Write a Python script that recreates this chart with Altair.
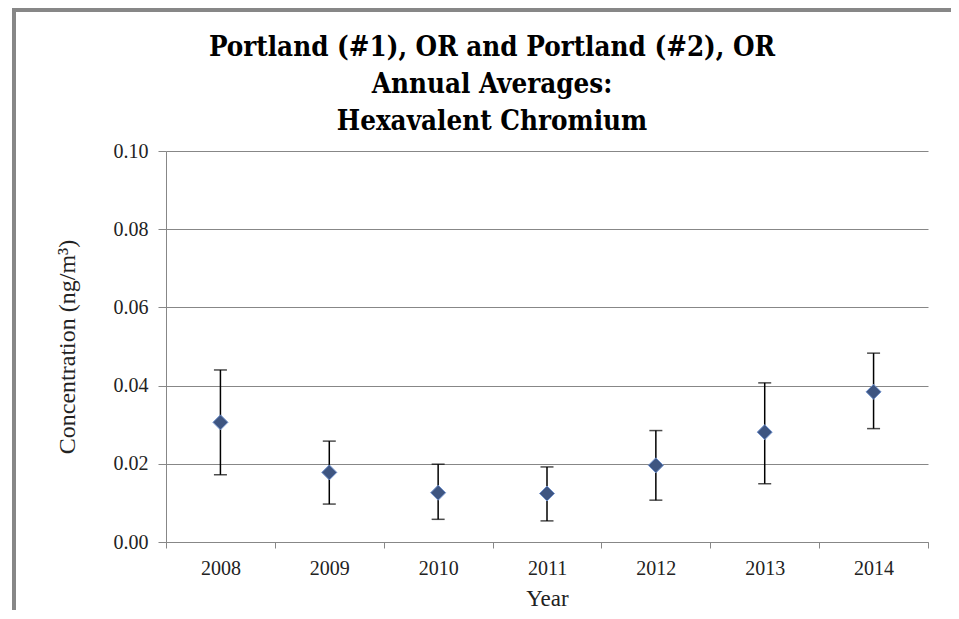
import altair as alt
import pandas as pd

years = ["2008", "2009", "2010", "2011", "2012", "2013", "2014"]
means = [0.0306, 0.0178, 0.0126, 0.0124, 0.0196, 0.0281, 0.0384]
lower = [0.0172, 0.0097, 0.0058, 0.0054, 0.0107, 0.0149, 0.0290]
upper = [0.0440, 0.0258, 0.0199, 0.0192, 0.0285, 0.0407, 0.0483]
y_ticks = [0.0, 0.02, 0.04, 0.06, 0.08, 0.10]

df = pd.DataFrame({"year": years, "mean": means, "lo": lower, "hi": upper})

W, H = 762, 391
SERIF = "'Times New Roman', 'Liberation Serif', serif"
TITLE_FONT = "'DejaVu Serif Condensed', 'DejaVu Serif', serif"
GRAY = "#878787"

xenc = alt.X(
    "year:O",
    sort=years,
    scale=alt.Scale(paddingInner=0, paddingOuter=0),
    axis=alt.Axis(
        title="Year", tickBand="extent", labelAngle=0,
        labelFont=SERIF, labelFontSize=20, labelColor="#222",
        titleFont=SERIF, titleFontSize=23, titleFontWeight="normal", titleColor="#222",
        labelPadding=10, titlePadding=9, tickSize=6,
        domainColor=GRAY, tickColor=GRAY, grid=False,
    ),
)
yscale = alt.Scale(domain=[0, 0.1], nice=False)
yaxis = alt.Axis(
    title="Concentration (ng/m³)", values=y_ticks, format=".2f",
    labelFont=SERIF, labelFontSize=20, labelColor="#222",
    titleFont=SERIF, titleFontSize=24, titleFontWeight="normal", titleColor="#222",
    labelPadding=10, titlePadding=34, tickSize=8,
    domainColor=GRAY, tickColor=GRAY, grid=True, gridColor=GRAY, gridWidth=1,
)

base = alt.Chart(df)
bars = base.mark_rule(color="black", strokeWidth=1.5).encode(
    x=xenc, y=alt.Y("lo:Q", scale=yscale, axis=yaxis), y2="hi:Q"
)
cap_lo = base.mark_tick(color="black", thickness=1.5, size=13).encode(
    x="year:O", y=alt.Y("lo:Q", scale=yscale)
)
cap_hi = base.mark_tick(color="black", thickness=1.5, size=13).encode(
    x="year:O", y=alt.Y("hi:Q", scale=yscale)
)
points = base.mark_point(
    shape="diamond", filled=True, size=225, fill="#3E5581",
    stroke="#6F90CC", strokeWidth=1, opacity=1,
).encode(x="year:O", y=alt.Y("mean:Q", scale=yscale))

frame_df = alt.Data(values=[{"k": 1}])
frame_left = alt.Chart(frame_df).mark_rule(color=GRAY, strokeWidth=4).encode(
    x=alt.value(-152), y=alt.value(-143), y2=alt.value(470)
)
frame_top = alt.Chart(frame_df).mark_rule(color=GRAY, strokeWidth=4).encode(
    x=alt.value(-154), x2=alt.value(800), y=alt.value(-141)
)

chart = alt.layer(bars, cap_lo, cap_hi, points, frame_left, frame_top).properties(
    width=W, height=H,
    padding={"left": 158, "top": 143, "right": 23, "bottom": 68},
    autosize=alt.AutoSizeParams(type="none"),
    title=alt.Title(
        ["Portland (#1), OR and Portland (#2), OR", "Annual Averages:", "Hexavalent Chromium"],
        font=TITLE_FONT, fontSize=27.5, fontWeight="bold", color="black",
        lineHeight=37, anchor="middle", frame="group", dx=-55, offset=0, dy=129,
    ),
).configure_view(stroke=None)

chart.save("out.html", embed_options={"renderer": "svg", "actions": False})
